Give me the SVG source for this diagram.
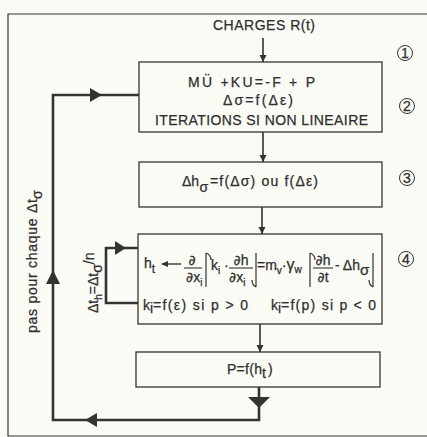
<svg xmlns="http://www.w3.org/2000/svg" width="427" height="437" viewBox="0 0 427 437">
<defs>
<marker id="ah" viewBox="0 0 10 10" refX="10" refY="5" markerWidth="7" markerHeight="8" markerUnits="userSpaceOnUse" orient="auto"><path d="M0,0 L10,5 L0,10 z" fill="#333"/></marker>
</defs>
<style>
.t{font-family:"Liberation Sans","DejaVu Sans",sans-serif;fill:#2e2e2e;font-size:14px;white-space:pre;stroke:#2e2e2e;stroke-width:0.25}
.d{font-family:"DejaVu Sans",sans-serif}
.box{fill:none;stroke:#333;stroke-width:1.3}
.thin{fill:none;stroke:#333;stroke-width:1.6}
.loop{fill:none;stroke:#333;stroke-width:2.6}
.br{fill:none;stroke:#333;stroke-width:1.2}
.tri{fill:#333}
.circ{fill:none;stroke:#333;stroke-width:1}
</style>
<rect width="427" height="437" fill="#fbfbf6"/>
<path d="M427,14 L8,14 L8,436 L427,436" fill="none" stroke="#333" stroke-width="1.2"/>

<g id="charges">
<text class="t" x="213" y="30" textLength="102" lengthAdjust="spacing">CHARGES R(t)</text>
</g>

<g id="box1">
<rect class="box" x="139" y="62" width="243" height="70"/>
<text class="t" x="188" y="87" textLength="127" lengthAdjust="spacing">MÜ +KU=-F + P</text>
<text class="t" x="223" y="105" textLength="70" lengthAdjust="spacing">Δσ=f(Δε)</text>
<text class="t" x="155" y="125" textLength="213" lengthAdjust="spacing">ITERATIONS SI NON LINEAIRE</text>
</g>

<g id="box3">
<rect class="box" x="139" y="162" width="243" height="45"/>
<text class="t" x="182" y="186" textLength="17" lengthAdjust="spacing">Δh</text>
<text class="t" x="199.5" y="192" font-size="14">σ</text>
<text class="t" x="210" y="186" textLength="108" lengthAdjust="spacing">=f(Δσ) ou f(Δε)</text>
</g>

<g id="box4">
<rect class="box" x="138" y="234" width="244" height="90"/>
<text class="t" x="144" y="268" font-size="15">h<tspan font-size="12" dy="5">t</tspan></text>
<path d="M162,264 L181,264" stroke="#333" stroke-width="1.4"/>
<path d="M161,264 L168,261 L168,267 z" class="tri"/>
<text class="t d" x="192" y="265" text-anchor="middle" font-size="15">∂</text>
<path d="M184,268 L202,268" stroke="#333" stroke-width="1.1"/>
<text class="t" x="186" y="282" font-size="15"><tspan class="d">∂</tspan>x<tspan font-size="10" dy="4">i</tspan></text>
<path class="br" d="M206,253 L206,287 M206,253 Q211,255 211,260"/>
<text class="t" x="211" y="270" font-size="14">k<tspan font-size="10" dy="4">i</tspan><tspan dy="-4"> ·</tspan></text>
<text class="t" x="241" y="265" text-anchor="middle" font-size="15"><tspan class="d">∂</tspan>h</text>
<path d="M229,268 L253,268" stroke="#333" stroke-width="1.1"/>
<text class="t" x="229" y="282" font-size="15"><tspan class="d">∂</tspan>x<tspan font-size="10" dy="4">i</tspan></text>
<path class="br" d="M256,253 L256,287 M256,287 Q252,285 252,280"/>
<text class="t" x="257" y="270" font-size="14">=m<tspan font-size="10" dy="4">v</tspan><tspan dy="-4">·</tspan><tspan font-size="16">γ</tspan><tspan font-size="10" dy="3">w</tspan></text>
<path class="br" d="M310,253 L310,287 M310,253 Q315,255 315,260"/>
<text class="t" x="323" y="265" text-anchor="middle" font-size="15"><tspan class="d">∂</tspan>h</text>
<path d="M313,268 L333,268" stroke="#333" stroke-width="1.1"/>
<text class="t" x="323" y="282" text-anchor="middle" font-size="15"><tspan class="d">∂</tspan>t</text>
<text class="t" x="335" y="270" font-size="14">- Δh<tspan font-size="15" dy="5">σ</tspan></text>
<path class="br" d="M373,253 L373,287 M373,287 Q369,285 369,280"/>
<text class="t" x="143" y="310">k</text>
<text class="t" x="150" y="313" font-size="10">i</text>
<text class="t" x="153" y="310" textLength="95" lengthAdjust="spacing">=f(ε) si p &gt; 0</text>
<text class="t" x="271" y="310">k</text>
<text class="t" x="278" y="313" font-size="10">i</text>
<text class="t" x="281" y="310" textLength="95" lengthAdjust="spacing">=f(p) si p &lt; 0</text>
</g>

<g id="box5">
<rect class="box" x="136" y="352" width="244" height="35"/>
<text class="t" x="227" y="374" textLength="35" lengthAdjust="spacing">P=f(h</text>
<text class="t" x="262" y="378" font-size="12">t</text>
<text class="t" x="268" y="374">)</text>
</g>

<g id="labels">
<text class="t" transform="translate(37,333) rotate(-90)" textLength="134" lengthAdjust="spacing">pas pour chaque Δt</text>
<text class="t" transform="translate(42,199) rotate(-90)" font-size="15">σ</text>
<text class="t" transform="translate(98,313) rotate(-90)" font-size="13">Δt<tspan font-size="10" dy="4">h</tspan><tspan dy="-4">=Δt</tspan><tspan font-size="14" dy="4">σ</tspan><tspan dy="-8">/n</tspan></text>
</g>

<g id="circles">
<circle class="circ" cx="405" cy="53" r="7.5"/><text class="t" x="405" y="57.5" text-anchor="middle" font-size="11">1</text>
<circle class="circ" cx="407" cy="106" r="7.5"/><text class="t" x="407" y="110.5" text-anchor="middle" font-size="11">2</text>
<circle class="circ" cx="407" cy="178" r="7.5"/><text class="t" x="407" y="182.5" text-anchor="middle" font-size="11">3</text>
<circle class="circ" cx="406" cy="259" r="7.5"/><text class="t" x="406" y="263.5" text-anchor="middle" font-size="11">4</text>
</g>

<g id="connectors">
<path class="thin" d="M263,38 L263,62" marker-end="url(#ah)"/>
<path class="thin" d="M263,132 L263,162" marker-end="url(#ah)"/>
<path class="thin" d="M262,207 L262,234" marker-end="url(#ah)"/>
<path class="thin" d="M260,324 L260,352" marker-end="url(#ah)"/>
<path class="loop" d="M259,387 L259,420 L53,420 L53,95 L139,95"/>
<path class="tri" d="M248,397 L270,397 L259,408 z"/>
<path class="tri" d="M85,420 L97,413 L97,427 z"/>
<path class="tri" d="M53,270 L46,284 L60,284 z"/>
<path class="tri" d="M102,95 L90,88 L90,102 z"/>
<path class="loop" d="M138,248 L106,248 L106,303 L138,303"/>
<path class="tri" d="M126,248 L115,241 L115,255 z"/>
</g>
</svg>
